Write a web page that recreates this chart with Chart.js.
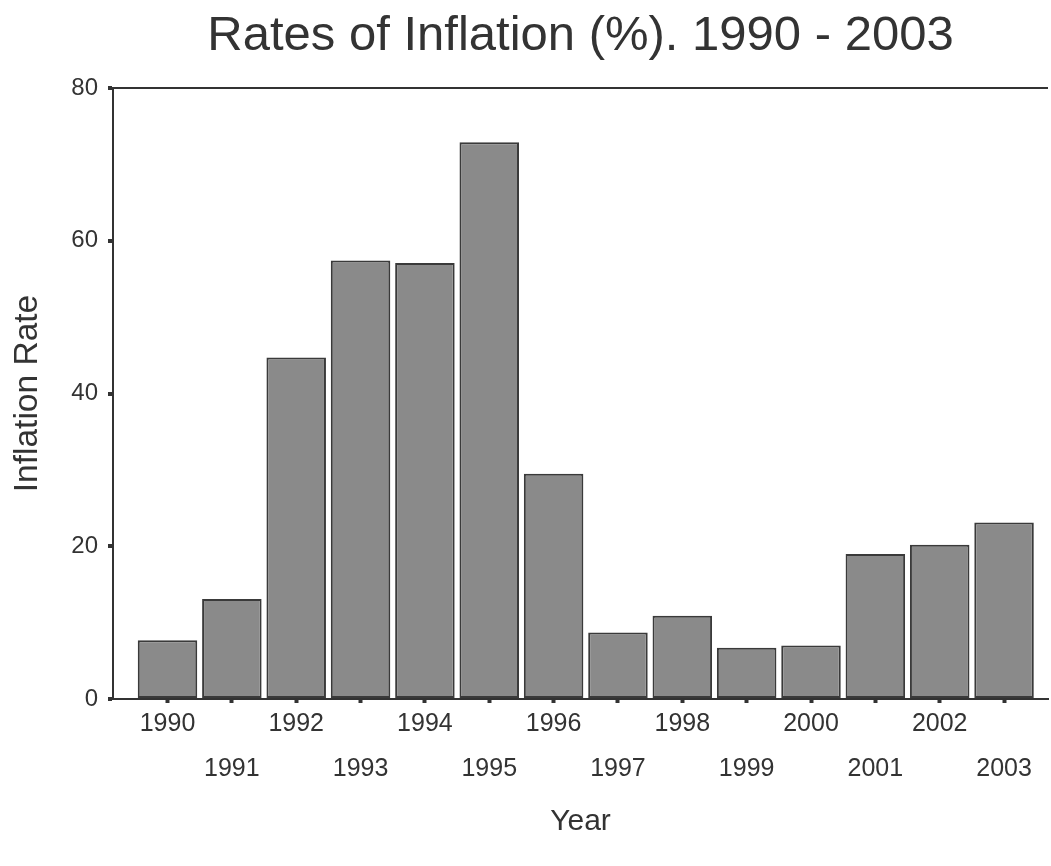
<!DOCTYPE html>
<html>
<head>
<meta charset="utf-8">
<script src="https://cdn.jsdelivr.net/npm/chart.js@4.4.1/dist/chart.umd.min.js"></script>
<style>
  html, body { margin: 0; padding: 0; background: #ffffff; }
  #wrap { width: 1051px; height: 866px; position: relative; }
</style>
</head>
<body>
<div id="wrap"><canvas id="c" width="1051" height="866"></canvas></div>
<script>
const TITLE = 'Rates of Inflation (%). 1990 - 2003';
const X_TITLE = 'Year';
const Y_TITLE = 'Inflation Rate';
const YEARS = [1990, 1991, 1992, 1993, 1994, 1995, 1996, 1997, 1998, 1999, 2000, 2001, 2002, 2003];
const INFLATION = [7.7, 13.1, 44.7, 57.4, 57.1, 72.9, 29.5, 8.7, 10.9, 6.7, 7.0, 19.0, 20.2, 23.1];
const Y_TICKS = [0, 20, 40, 60, 80];

const TEXT = '#333333';
const AXIS = '#333333';
const FONT = '"Liberation Sans", Arial, sans-serif';

const PAD = { left: 0, right: 3, top: 0, bottom: 0 };
const AREA = { left: 113, right: 1048, top: 88, bottom: 699 };

new Chart(document.getElementById('c'), {
  type: 'bar',
  data: {
    datasets: [{
      data: YEARS.map((y, i) => ({ x: y, y: INFLATION[i] })),
      backgroundColor: '#8a8a8a',
      borderColor: '#3a3a3a',
      borderWidth: 2,
      borderSkipped: false,
      barPercentage: 0.925,
      categoryPercentage: 1.0
    }]
  },
  options: {
    responsive: false,
    animation: false,
    layout: { padding: PAD },
    plugins: {
      legend: { display: false },
      tooltip: { enabled: false },
      title: {
        display: true,
        fullSize: false,
        text: TITLE,
        color: TEXT,
        font: { family: FONT, size: 49, weight: 'normal', lineHeight: 1.2 },
        padding: { top: 7, bottom: 22.2 }
      }
    },
    scales: {
      x: {
        type: 'linear',
        min: 1989.153,
        max: 2003.683,
        offset: false,
        afterBuildTicks: (s) => { s.ticks = YEARS.map(v => ({ value: v })); },
        afterFit: (s) => { s.height = 866 - AREA.bottom - PAD.bottom; },
        grid: { display: true, offset: false, drawOnChartArea: false, drawTicks: true, tickLength: 4, tickColor: AXIS, tickWidth: 4 },
        border: { display: true, color: AXIS, width: 2 },
        ticks: {
          color: TEXT,
          autoSkip: false,
          maxRotation: 0,
          padding: 10,
          font: { family: FONT, size: 25, lineHeight: '22.5px' },
          callback: (v) => {
            const i = YEARS.indexOf(v);
            if (i < 0) return '';
            return i % 2 === 0 ? [String(v), '', ''] : ['', '', String(v)];
          }
        },
        title: {
          display: true,
          text: X_TITLE,
          color: TEXT,
          font: { family: FONT, size: 30, lineHeight: 1.2 },
          padding: { top: 0, bottom: 26 }
        }
      },
      y: {
        min: 0,
        max: 80,
        afterBuildTicks: (s) => { s.ticks = Y_TICKS.map(v => ({ value: v })); },
        afterFit: (s) => { s.width = AREA.left - PAD.left; },
        grid: {
          display: true,
          drawOnChartArea: true,
          drawTicks: true,
          tickLength: 5,
          tickWidth: 4,
          tickColor: AXIS,
          lineWidth: 2,
          color: (ctx) => (ctx.tick && ctx.tick.value === 80 ? AXIS : 'rgba(0,0,0,0)')
        },
        border: { display: true, color: AXIS, width: 2 },
        ticks: {
          color: TEXT,
          padding: 10,
          font: { family: FONT, size: 24 }
        },
        title: {
          display: true,
          text: Y_TITLE,
          color: TEXT,
          font: { family: FONT, size: 33.5, lineHeight: 1.2 },
          padding: { top: 8, bottom: 0 }
        }
      }
    }
  }
});
</script>
</body>
</html>
